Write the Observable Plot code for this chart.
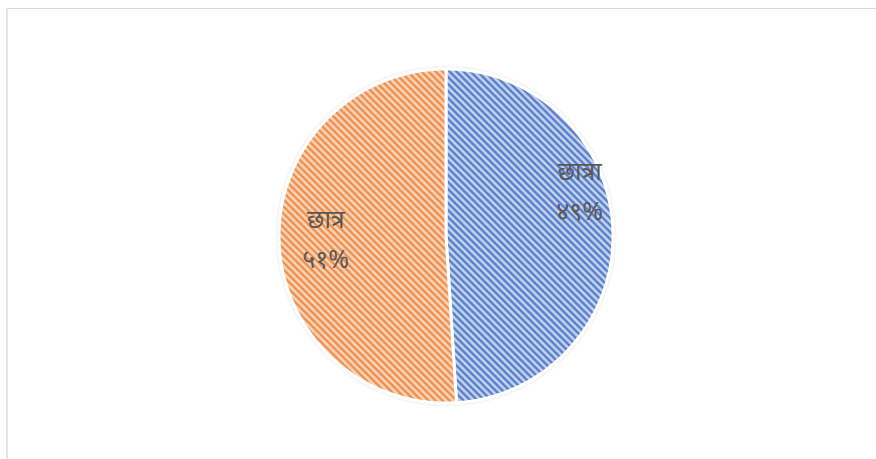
<!DOCTYPE html>
<html><head><meta charset="utf-8">
<script src="https://cdn.jsdelivr.net/npm/d3@7"></script>
<script src="https://cdn.jsdelivr.net/npm/@observablehq/plot@0.6"></script>
<style>
body{margin:0;background:#fff;}
#wrap{position:relative;width:876px;height:459px;overflow:hidden;background:#fff;}
#frame{position:absolute;left:6px;top:8px;width:900px;height:500px;border-left:2px solid #e4e4e4;border-top:1px solid #d9d9d9;}
#chart{position:absolute;left:0;top:0;}
</style></head><body>
<div id="wrap"><div id="frame"></div><div id="chart"></div></div>
<script>
// Data
const categories = ["छात्रा", "छात्र"];
const values = [49, 51];
const percentLabels = ["४९%", "५१%"];
const patternIds = ["hatchBlue", "hatchOrange"];

// Layout constants (label anchors in unit-circle coordinates)
const labelAnchor = [[0.80, 0.29], [-0.72, 0.005]];

const arcs = d3.pie().sort(null).value(d => d)(values);
const rows = [];
arcs.forEach((a, i) => {
  rows.push({slice: i, x: 0, y: 0});
  const n = Math.max(2, Math.ceil((a.endAngle - a.startAngle) / (Math.PI / 360)));
  for (let k = 0; k <= n; k++) {
    const t = a.startAngle + (a.endAngle - a.startAngle) * k / n;
    rows.push({slice: i, x: Math.sin(t), y: Math.cos(t)});
  }
  rows.push({slice: i, x: 0, y: 0});
});
const ring = d3.range(0, 361, 1).map(d => ({x: 1.012 * Math.sin(d * Math.PI / 180), y: 1.012 * Math.cos(d * Math.PI / 180)}));

const labels = categories.map((c, i) => ({text: c + "\n" + percentLabels[i], x: labelAnchor[i][0], y: labelAnchor[i][1]}));

const cx = 445.5, cy = 235.5, R = 167;
const chart = Plot.plot({
  width: 876,
  height: 459,
  margin: 0,
  x: {domain: [-1, 1], range: [cx - R, cx + R], axis: null},
  y: {domain: [-1, 1], range: [cy + R, cy - R], axis: null},
  style: {background: "transparent", fontFamily: "'Noto Sans', sans-serif"},
  marks: [
    Plot.line(ring, {x: "x", y: "y", stroke: "#f6f6f6", strokeWidth: 3}),
    ...arcs.map((a, i) => Plot.line(rows.filter(r => r.slice === i), {
      x: "x", y: "y", fill: `url(#${patternIds[i]})`, stroke: "white", strokeWidth: 3, strokeLinejoin: "miter"
    })),
    Plot.text(labels, {x: "x", y: "y", text: "text", fontSize: 25, fill: "#595959", lineHeight: 1.6, textAnchor: "middle"})
  ]
});

const defs = d3.select(chart).insert("defs", ":first-child");
function hatch(id, bg, fg) {
  const s = 7;
  const p = defs.append("pattern").attr("id", id).attr("patternUnits", "userSpaceOnUse")
    .attr("width", s).attr("height", s);
  p.append("rect").attr("width", s).attr("height", s).attr("fill", bg);
  p.append("path").attr("d", `M-1,-1 L${s+1},${s+1} M${-s-1},-1 L1,${s+1} M${s-1},-1 L${2*s+1},${s+1}`)
    .attr("stroke", fg).attr("stroke-width", 2.3).attr("fill", "none");
}
hatch("hatchBlue", "#cbd8f0", "#4d78c8");
hatch("hatchOrange", "#fcd9c0", "#ee8a44");

document.getElementById("chart").appendChild(chart);
</script>
</body></html>
